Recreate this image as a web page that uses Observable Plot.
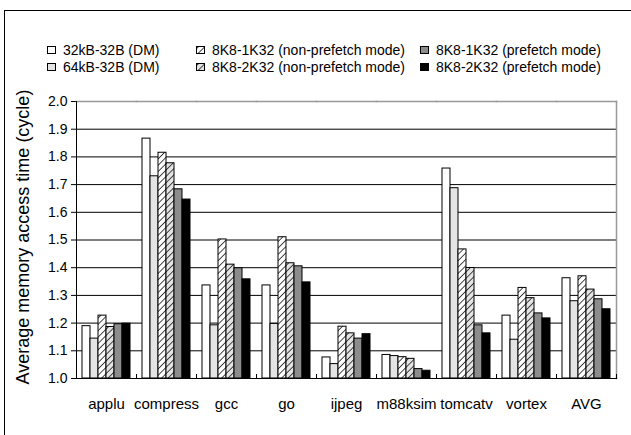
<!DOCTYPE html>
<html><head><meta charset="utf-8">
<script src="https://cdn.jsdelivr.net/npm/d3@7"></script>
<script src="https://cdn.jsdelivr.net/npm/@observablehq/plot@0.6"></script>
<style>
body{margin:0;background:#fff;font-family:"Liberation Sans",Arial,sans-serif;color:#000;overflow:hidden;}
#wrap{position:relative;width:631px;height:435px;overflow:hidden;background:#fff;}
#frame{position:absolute;left:4px;top:10px;width:627px;height:425px;border-top:1.5px solid #000;border-left:1.5px solid #000;box-sizing:border-box;}
.item{position:absolute;font-size:14px;line-height:16px;white-space:nowrap;transform:translateY(-50%);}
.item svg{position:absolute;left:-16px;top:4px;overflow:visible;}
#ylabel{position:absolute;left:23px;top:237px;transform:translate(-50%,-50%) rotate(-90deg);font-size:18px;white-space:nowrap;}
#chart{position:absolute;left:0;top:79px;}
#chart g[aria-label="y-axis tick label"]{font-size:14px;}
#chart g[aria-label="fx-axis tick label"]{font-size:15px;}
</style>
</head><body>
<div id="wrap">
  <div id="frame"></div>
  <div id="legend"></div>
  <div id="ylabel">Average memory access time (cycle)</div>
  <div id="chart"></div>
</div>
<script>
const benchmarks = ["applu","compress","gcc","go","ijpeg","m88ksim","tomcatv","vortex","AVG"];
const configs = ["32kB-32B (DM)","64kB-32B (DM)","8K8-1K32 (non-prefetch mode)","8K8-2K32 (non-prefetch mode)","8K8-1K32 (prefetch mode)","8K8-2K32 (prefetch mode)"];
const dm32k = [1.189,1.866,1.336,1.336,1.076,1.085,1.758,1.227,1.362];
const dm64k = [1.144,1.730,1.192,1.197,1.052,1.081,1.687,1.140,1.279];
const np1k  = [1.227,1.815,1.502,1.510,1.187,1.077,1.466,1.327,1.369];
const np2k  = [1.186,1.777,1.411,1.416,1.163,1.071,1.399,1.290,1.321];
const pf1k  = [1.196,1.683,1.398,1.405,1.144,1.034,1.192,1.235,1.286];
const pf2k  = [1.198,1.646,1.358,1.347,1.160,1.028,1.163,1.217,1.250];
const yTicks = [1.0,1.1,1.2,1.3,1.4,1.5,1.6,1.7,1.8,1.9,2.0];
const fills = ["#ffffff","#e4e4e4","url(#hatchW)","url(#hatchG)","#8c8c8c","#000000"];

const seriesValues = [dm32k, dm64k, np1k, np2k, pf1k, pf2k];
const data = [];
benchmarks.forEach((b, i) => configs.forEach((c, j) => data.push({bench: b, config: c, value: seriesValues[j][i]})));

const W = 631, H = 356, mT = 22, mB = 57, mL = 73, mR = 13;
const plotH = H - mT - mB;

const chart = Plot.plot({
  width: W, height: H,
  marginTop: mT, marginBottom: mB, marginLeft: mL, marginRight: mR,
  style: {fontFamily: "'Liberation Sans', Arial, sans-serif", fontSize: "15px", color: "#000", background: "transparent"},
  fx: {domain: benchmarks, padding: 0, label: null, tickSize: 0, tickPadding: 20},
  x: {domain: configs, paddingInner: 0, paddingOuter: 0.64, axis: null},
  y: {domain: [1, 2], ticks: yTicks, tickFormat: d3.format(".1f"), tickSize: 5, tickPadding: 4, label: null},
  color: {domain: configs, range: fills},
  marks: [
    Plot.ruleY(yTicks.slice(1, -1), {stroke: "#000", strokeWidth: 1}),
    Plot.barY(data, {fx: "bench", x: "config", y1: 1, y2: "value", fill: "config", stroke: "#000", strokeWidth: 1}),
    Plot.frame({anchor: "top", stroke: "#999", strokeWidth: 1.5}),
    Plot.frame({anchor: "right", stroke: "#999", strokeWidth: 1.5, fx: [benchmarks[benchmarks.length - 1]]}),
    Plot.frame({anchor: "left", stroke: "#000", strokeWidth: 1, fx: [benchmarks[0]]}),
    Plot.frame({anchor: "left", stroke: "#000", strokeWidth: 1, insetTop: plotH - 4}),
    Plot.frame({anchor: "right", stroke: "#000", strokeWidth: 1, insetTop: plotH - 4}),
    Plot.frame({anchor: "bottom", stroke: "#000", strokeWidth: 1.2})
  ]
});
document.getElementById("chart").appendChild(chart);

// hatch patterns
const defs = d3.select(chart).insert("defs", ":first-child");
function hatch(id, bg) {
  const s = 4.5;
  const p = defs.append("pattern").attr("id", id).attr("patternUnits", "userSpaceOnUse")
    .attr("width", s).attr("height", s).attr("patternTransform", "rotate(45)");
  p.append("rect").attr("width", s).attr("height", s).attr("fill", bg);
  p.append("line").attr("x1", s / 2).attr("x2", s / 2).attr("y1", 0).attr("y2", s)
    .attr("stroke", "#333").attr("stroke-width", 0.9);
}
hatch("hatchW", "#ffffff");
hatch("hatchG", "#e4e4e4");

// legend
const legendX = [63, 212, 436];
const legendY = [50, 67];
const legend = d3.select("#legend");
configs.forEach((c, i) => {
  const col = Math.floor(i / 2), row = i % 2;
  const item = legend.append("div").attr("class", "item")
    .style("left", legendX[col] + "px").style("top", legendY[row] + "px");
  const sw = item.append("svg").attr("width", 9).attr("height", 8);
  sw.append("rect").attr("x", 0.5).attr("y", 0.5).attr("width", 8).attr("height", 7)
    .attr("fill", fills[i]).attr("stroke", "#000").attr("stroke-width", 1);
  item.append("span").text(c);
});
</script>
</body></html>
